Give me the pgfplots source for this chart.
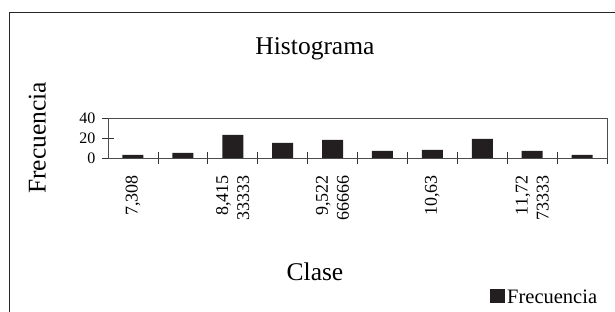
\documentclass[border=0pt]{standalone}
\usepackage{fontspec}
\setmainfont{Liberation Serif}
\usepackage{pgfplots}
\pgfplotsset{compat=1.18}
\definecolor{barc}{HTML}{231F20}
\begin{document}
\begin{tikzpicture}[x=1pt,y=1pt]
\begin{axis}[
  at={(108pt,154pt)}, anchor=south west,
  scale only axis, width=499pt, height=40pt,
  xmin=0.5, xmax=10.5, ymin=0, ymax=40,
  xtick={1.5,2.5,...,10.5},
  xticklabels={},
  extra x ticks={1,3,5,7,9},
  extra x tick labels={{7,308},{8,415\\33333},{9,522\\66666},{10,63},{11,72\\73333}},
  extra x tick style={major tick length=0pt},
  ytick={0,20,40},
  xtick pos=bottom, ytick pos=left,
  tick align=outside,
  major tick length=12pt,
  tick style={black!80, line width=0.8pt},
  xtick style={yshift=6pt},
  ytick style={xshift=6pt},
  axis line style={black!70, line width=0.8pt},
  yticklabel style={font=\fontsize{16}{18}\selectfont, xshift=3pt},
  xticklabel style={yshift=-17pt, rotate=90, anchor=east, align=right, inner sep=0pt, font=\fontsize{18}{21}\selectfont},
  /pgf/number format/assume math mode=true,
  ybar, bar width=21pt,
  title={Histograma},
  title style={at={(axis description cs:0.4148,2.425)}, anchor=base, font=\fontsize{25.5}{30}\selectfont},
  xlabel={Clase},
  xlabel style={at={(axis description cs:0.4148,-3.05)}, anchor=base, font=\fontsize{25.5}{30}\selectfont},
  ylabel={Frecuencia},
  ylabel style={at={(axis description cs:-0.1417,0.5)}, anchor=center, font=\fontsize{25.5}{30}\selectfont},
  legend style={at={(axis description cs:0.7655,-3.475)}, anchor=west, draw=none, fill=none,
    font=\fontsize{20.5}{24}\selectfont, inner sep=0pt},
  legend image code/.code={\fill[barc] (0pt,-6pt) rectangle (15pt,8pt);},
]
\addplot[fill=barc, draw=none] coordinates {(1,3)(2,5)(3,23)(4,15)(5,18)(6,7)(7,8)(8,19)(9,7)(10,3)};
\addlegendentry{Frecuencia}
\end{axis}
\draw[black!85, line width=0.9pt] (9.5,-10) -- (9.5,299.3) -- (630,299.3);
\pgfresetboundingbox
\path[use as bounding box] (0,0) rectangle (615,312);
\end{tikzpicture}
\end{document}
